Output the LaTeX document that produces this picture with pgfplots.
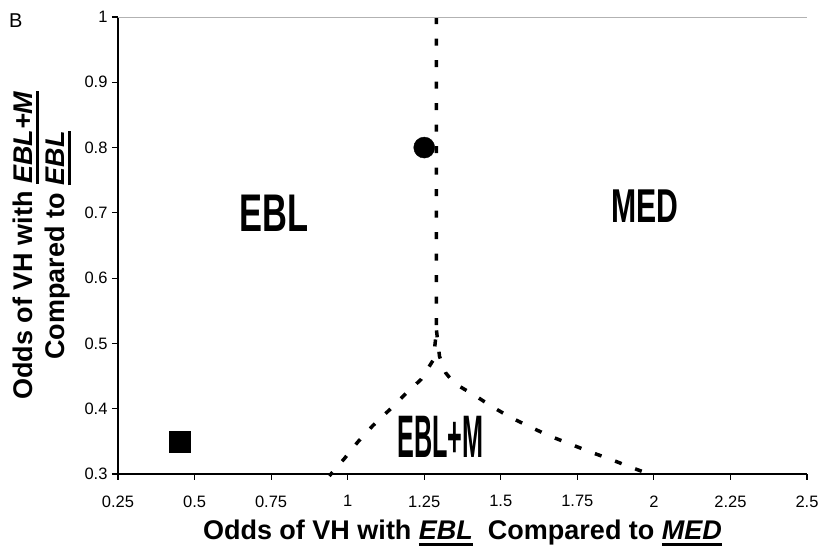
\documentclass[border=0pt]{standalone}
\usepackage{graphicx}
\usepackage{pgfplots}
\pgfplotsset{compat=1.18}
\usepackage{fontspec}
\setmainfont{Liberation Sans}
\newsavebox\ulbox
\newcommand\ulit[1]{\sbox\ulbox{\textit{#1}}\rlap{\rule[-6pt]{\wd\ulbox}{2.5pt}}\usebox\ulbox}
\pgfplotstableread{
x y
0.45 0.35
}\squaredata
\pgfplotstableread{
x y
1.25 0.80
}\circledata
\pgfplotstableread{
x y
1.29 1.00
1.29 0.52
1.28 0.475
1.24 0.445
1.185 0.421
1.136 0.398
1.082 0.374
1.033 0.349
0.99 0.324
0.94 0.297
}\leftbranch
\pgfplotstableread{
x y
1.29 0.52
1.30 0.48
1.32 0.455
1.348 0.439
1.413 0.421
1.472 0.403
1.531 0.387
1.596 0.372
1.661 0.358
1.726 0.346
1.791 0.334
1.856 0.323
1.921 0.311
1.99 0.299
}\rightbranch
\begin{document}
\begin{tikzpicture}
\path[use as bounding box] (-118pt,-80pt) rectangle (702pt,474pt);
\begin{axis}[
  at={(0pt,0pt)}, anchor=south west,
  scale only axis, width=689pt, height=457pt,
  xmin=0.25, xmax=2.5, ymin=0.3, ymax=1,
  axis x line*=bottom, axis y line*=left,
  axis line style={line width=1.5pt, -},
  xtick={0.25,0.5,0.75,1,1.25,1.5,1.75,2,2.25,2.5},
  ytick={0.3,0.4,0.5,0.6,0.7,0.8,0.9,1},
  xticklabels={0.25,0.5,0.75,1,1.25,1.5,1.75,2,2.25,2.5},
  yticklabels={0.3,0.4,0.5,0.6,0.7,0.8,0.9,1},
  tick align=outside, major tick length=6pt,
  tick style={line width=1.2pt, black},
  ticklabel style={font=\fontsize{16.5}{18}\selectfont},
  xticklabel style={yshift=-12pt},
  yticklabel style={xshift=-1pt},
  /pgf/number format/assume math mode=true,
  clip=false,
  xlabel={\textbf{Odds of VH with \ulit{EBL}~ Compared to \ulit{MED}}},
  xlabel style={font=\fontsize{27}{31}\selectfont, at={(axis description cs:0.5,-0.1444)}, anchor=base},
  ylabel={\textbf{Odds of VH with \ulit{EBL+M}}\\\textbf{Compared to \ulit{EBL}}},
  ylabel style={font=\fontsize{27}{32}\selectfont, align=center, at={(axis description cs:-0.1103,0.5)}, anchor=center, rotate=0},
]
\addplot[black, line width=3.5pt, line cap=butt, dash pattern=on 7pt off 14.5pt] table[x=x,y=y] {\leftbranch};
\addplot[black, line width=3.5pt, line cap=butt, dash pattern=on 7pt off 14.5pt] table[x=x,y=y] {\rightbranch};
\addplot[only marks, mark=square*, mark size=10.5pt, black] table[x=x,y=y] {\squaredata};
\addplot[only marks, mark=*, mark size=10.5pt, black] table[x=x,y=y] {\circledata};
\draw[gray!60, line width=1pt] (rel axis cs:0,1) -- (rel axis cs:1,1);
\node[font=\bfseries\fontsize{53}{53}\selectfont, inner sep=0] at (axis cs:0.76,0.70) {\scalebox{0.65}[1]{EBL}};
\node[font=\bfseries\fontsize{47.5}{48}\selectfont, inner sep=0] at (axis cs:1.97,0.71) {\scalebox{0.635}[1]{MED}};
\node[font=\bfseries\fontsize{60}{60}\selectfont, inner sep=0] at (axis cs:1.303,0.357) {\scalebox{0.42}[1]{EBL+M}};
\end{axis}
\node[anchor=base west, inner sep=0, font=\fontsize{20}{22}\selectfont] at (-109pt,446pt) {B};
\end{tikzpicture}
\end{document}
